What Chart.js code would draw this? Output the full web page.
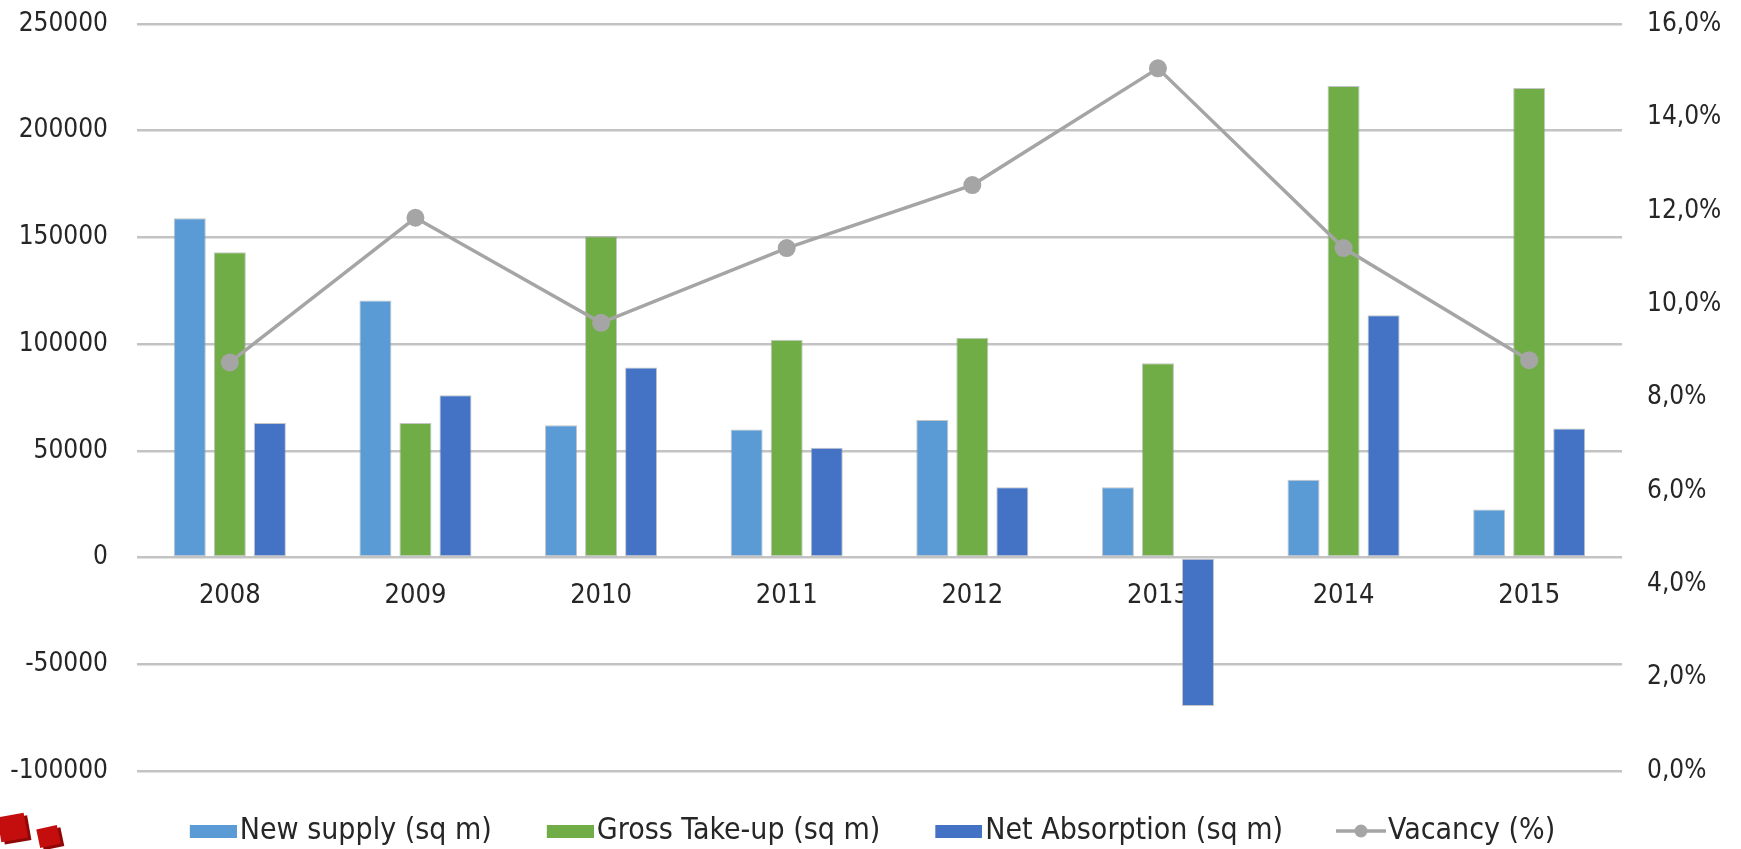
<!DOCTYPE html>
<html>
<head>
<meta charset="utf-8">
<script src="https://cdn.jsdelivr.net/npm/chart.js@4.4.1/dist/chart.umd.min.js"></script>
<style>
  html, body { margin: 0; padding: 0; background: #ffffff; }
  #wrap { position: relative; width: 1741px; height: 849px; overflow: hidden; }
  canvas { display: block; }
  .logo { position: absolute; background: #c40e0e; box-shadow: 3px 3px 0 #8f0808; }
</style>
</head>
<body>
<div id="wrap">
  <canvas id="c" width="1741" height="849"></canvas>
  <div class="logo" style="left:-1px; top:815px; width:27px; height:25px; transform:rotate(-10deg);"></div>
  <div class="logo" style="left:38px; top:827px; width:21px; height:19px; transform:rotate(-12deg);"></div>
</div>
<script>
const categories = ['2008', '2009', '2010', '2011', '2012', '2013', '2014', '2015'];
const newSupply = [159000, 120500, 62000, 60000, 64500, 33000, 36500, 22500];
const grossTakeUp = [143000, 63000, 150500, 102000, 103000, 91000, 221000, 220000];
const netAbsorption = [63000, 76000, 89000, 51500, 33000, -69500, 113500, 60500];
const vacancy = [8.75, 11.85, 9.6, 11.2, 12.55, 15.05, 11.2, 8.8];
const seriesLabels = ['New supply (sq m)', 'Gross Take-up (sq m)', 'Net Absorption (sq m)', 'Vacancy (%)'];
const leftTicks = { min: -100000, max: 250000, step: 50000 };
const rightTicks = { min: 0, max: 16, step: 2 };

const colors = ['#5B9BD5', '#70AD47', '#4472C4', '#A5A5A5'];
const FONT = "'DejaVu Sans Condensed', 'DejaVu Sans', sans-serif";
const TEXT = '#262626';
const LEG_W = 73;
const SHIFT = 34;

function rectImg(color) {
  const c = document.createElement('canvas');
  c.width = LEG_W + 24; c.height = 13;
  const g = c.getContext('2d');
  g.fillStyle = color;
  g.fillRect(c.width - 47, 0, 47, 13);
  return c;
}
function lineImg(color) {
  const c = document.createElement('canvas');
  c.width = LEG_W + 26; c.height = 16;
  const g = c.getContext('2d');
  g.strokeStyle = color; g.lineWidth = 3.5;
  g.beginPath(); g.moveTo(c.width - 50, 8); g.lineTo(c.width, 8); g.stroke();
  g.fillStyle = color;
  g.beginPath(); g.arc(c.width - 25, 8, 6.5, 0, Math.PI * 2); g.fill();
  return c;
}
const legendImgs = [rectImg(colors[0]), rectImg(colors[1]), rectImg(colors[2]), lineImg(colors[3])];

const barCommon = {
  type: 'bar',
  yAxisID: 'y',
  borderWidth: 1,
  borderColor: 'rgba(150,150,150,0.55)',
  borderSkipped: false,
  categoryPercentage: 0.647,
  barPercentage: 0.8,
  order: 1
};

function fixAxis(width) {
  return s => { s.width = width; s.paddingTop = 0; s.paddingBottom = 0; };
}

new Chart(document.getElementById('c'), {
  data: {
    labels: categories,
    datasets: [
      Object.assign({}, barCommon, { label: seriesLabels[0], data: newSupply, backgroundColor: colors[0] }),
      Object.assign({}, barCommon, { label: seriesLabels[1], data: grossTakeUp, backgroundColor: colors[1] }),
      Object.assign({}, barCommon, { label: seriesLabels[2], data: netAbsorption, backgroundColor: colors[2] }),
      {
        type: 'line', label: seriesLabels[3], data: vacancy, yAxisID: 'y1',
        borderColor: colors[3], borderWidth: 3.5, backgroundColor: colors[3],
        pointRadius: 9, pointBackgroundColor: colors[3], pointBorderWidth: 0,
        tension: 0, order: 0
      }
    ]
  },
  options: {
    responsive: false,
    animation: false,
    layout: { padding: { top: 24, left: -SHIFT, right: 0, bottom: -7 } },
    scales: {
      x: {
        type: 'category',
        position: { y: 0 },
        offset: true,
        grid: { display: false, drawTicks: false },
        border: { display: false },
        ticks: { padding: 22, color: TEXT, font: { family: FONT, size: 27 }, maxRotation: 0 }
      },
      y: {
        position: 'left',
        min: leftTicks.min, max: leftTicks.max,
        ticks: { stepSize: leftTicks.step, padding: 29, color: TEXT, font: { family: FONT, size: 26 },
          callback: v => String(v) },
        grid: { color: '#c3c3c3', lineWidth: 2.5, drawTicks: false },
        border: { display: false },
        afterFit: fixAxis(137 + SHIFT)
      },
      y1: {
        position: 'right',
        min: rightTicks.min, max: rightTicks.max,
        ticks: { stepSize: rightTicks.step, padding: 25, color: TEXT, font: { family: FONT, size: 26 },
          callback: v => v.toFixed(1).replace('.', ',') + '%' },
        grid: { display: false, drawTicks: false },
        border: { display: false },
        afterFit: fixAxis(119)
      }
    },
    plugins: {
      tooltip: { enabled: false },
      legend: {
        position: 'bottom',
        title: { display: true, text: '', padding: { top: 16, bottom: 0 }, font: { size: 10 } },
        labels: {
          usePointStyle: true,
          pointStyleWidth: LEG_W,
          padding: 17,
          color: TEXT,
          font: { family: FONT, size: 30 },
          generateLabels: chart => chart.data.datasets.map((ds, i) => ({
            text: ds.label, pointStyle: legendImgs[i], fillStyle: 'transparent',
            strokeStyle: 'transparent', lineWidth: 0, hidden: false, datasetIndex: i, fontColor: TEXT
          }))
        }
      }
    }
  }
});
</script>
</body>
</html>
